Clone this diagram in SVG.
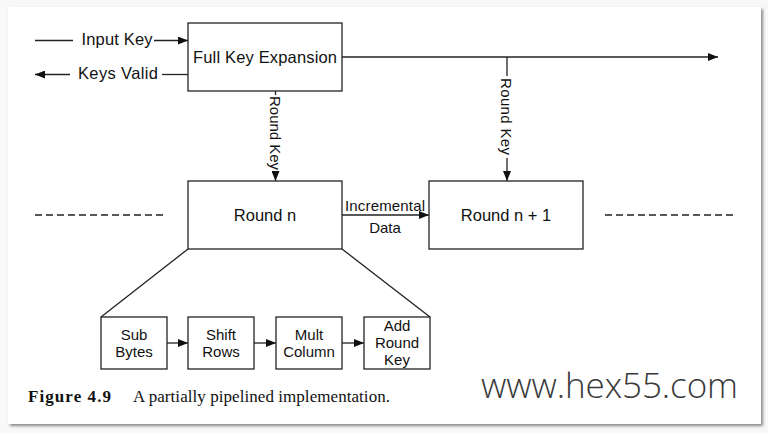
<svg xmlns="http://www.w3.org/2000/svg" width="768" height="433" viewBox="0 0 768 433">
<defs>
<marker id="ah" markerWidth="10" markerHeight="8" refX="10" refY="4" orient="auto" markerUnits="userSpaceOnUse">
<path d="M0,0 L10,4 L0,8 z" fill="#111"/>
</marker>
<filter id="sh" x="-5%" y="-5%" width="110%" height="110%">
<feGaussianBlur stdDeviation="1.5"/>
</filter>
<style>
.box{fill:#fff;stroke:#222;stroke-width:1.3}
.ln{fill:none;stroke:#222;stroke-width:1.3}
.t{font-family:"Liberation Sans",Arial,sans-serif;font-size:16.5px;fill:#111;text-anchor:middle}
.m{font-family:"Liberation Sans",Arial,sans-serif;font-size:15px;fill:#111;text-anchor:middle}
.s{font-family:"Liberation Sans",Arial,sans-serif;font-size:15px;fill:#111;text-anchor:middle}
.cap{font-family:"Liberation Serif","Times New Roman",serif;font-size:17px;fill:#111}
</style>
</defs>
<rect x="0" y="0" width="768" height="433" fill="#f8f8f8"/>
<rect x="10" y="9" width="753" height="417" fill="#888" filter="url(#sh)"/>
<rect x="8" y="7" width="753" height="417" fill="#fff"/>

<g id="connectors">
<line class="ln" x1="35" y1="40.5" x2="73" y2="40.5"/>
<line class="ln" x1="154" y1="40.5" x2="188" y2="40.5" marker-end="url(#ah)"/>
<line class="ln" x1="162" y1="74.5" x2="188" y2="74.5"/>
<line class="ln" x1="70" y1="74.5" x2="35" y2="74.5" marker-end="url(#ah)"/>
<line class="ln" x1="342" y1="57" x2="718" y2="57" marker-end="url(#ah)"/>
<path class="ln" d="M275.5 91 V95 M275.5 171 V181" marker-end="url(#ah)"/>
<path class="ln" d="M507 57 V76 M507 158 V181" marker-end="url(#ah)"/>
<line class="ln" x1="342" y1="215" x2="429" y2="215" marker-end="url(#ah)"/>
<line class="ln" x1="35" y1="215" x2="167" y2="215" stroke-dasharray="7 4"/>
<line class="ln" x1="605" y1="215" x2="737" y2="215" stroke-dasharray="7 4"/>
<line class="ln" x1="188" y1="249" x2="101" y2="317"/>
<line class="ln" x1="342" y1="249" x2="430" y2="317"/>
<line class="ln" x1="167" y1="343" x2="188" y2="343" marker-end="url(#ah)"/>
<line class="ln" x1="254" y1="343" x2="276" y2="343" marker-end="url(#ah)"/>
<line class="ln" x1="342" y1="343" x2="364" y2="343" marker-end="url(#ah)"/>
<text class="t" x="117" y="45" textLength="71">Input Key</text>
<text class="t" x="118" y="79" textLength="80">Keys Valid</text>
<text class="s" transform="translate(270,133) rotate(90)" textLength="74">Round Key</text>
<text class="s" transform="translate(501,116.5) rotate(90)" textLength="77">Round Key</text>
<text class="s" x="385" y="210.5" textLength="80">Incremental</text>
<text class="s" x="385" y="232.5">Data</text>
</g>

<g id="full-key-expansion">
<rect class="box" x="188" y="23" width="154" height="68"/>
<text class="t" x="265" y="63" textLength="144">Full Key Expansion</text>
</g>
<g id="round-n">
<rect class="box" x="188" y="181" width="154" height="68"/>
<text class="t" x="265" y="221">Round n</text>
</g>
<g id="round-n1">
<rect class="box" x="429" y="181" width="154" height="68"/>
<text class="t" x="506" y="221">Round n + 1</text>
</g>
<g id="sub-bytes">
<rect class="box" x="101" y="317" width="66" height="52"/>
<text class="m" x="134" y="340"><tspan x="134">Sub</tspan><tspan x="134" dy="16.8">Bytes</tspan></text>
</g>
<g id="shift-rows">
<rect class="box" x="188" y="317" width="66" height="52"/>
<text class="m" x="221" y="340"><tspan x="221">Shift</tspan><tspan x="221" dy="16.8">Rows</tspan></text>
</g>
<g id="mult-column">
<rect class="box" x="276" y="317" width="66" height="52"/>
<text class="m" x="309" y="340"><tspan x="309">Mult</tspan><tspan x="309" dy="16.8">Column</tspan></text>
</g>
<g id="add-round-key">
<rect class="box" x="364" y="317" width="66" height="52"/>
<text class="m" x="397" y="331"><tspan x="397">Add</tspan><tspan x="397" dy="16.8">Round</tspan><tspan x="397" dy="16.8">Key</tspan></text>
</g>

<text class="cap" x="28" y="402" font-weight="bold" font-size="18.5" textLength="83">Figure 4.9</text>
<text class="cap" x="133" y="402" textLength="257">A partially pipelined implementation.</text>
<text x="481" y="398" font-family="'Open Sans','Liberation Sans',sans-serif" font-weight="300" font-size="35" fill="#3a3a3a" textLength="257">www.hex55.com</text>
</svg>
